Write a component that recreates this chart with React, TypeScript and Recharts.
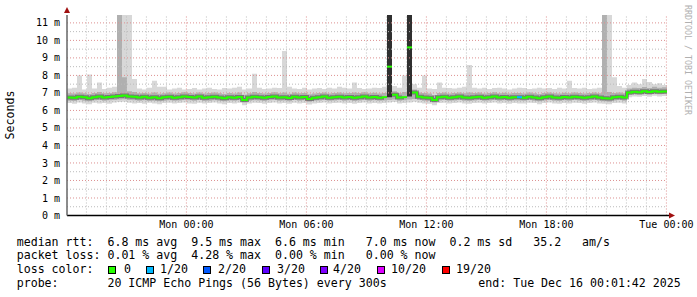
import React from "react";
import {
  ComposedChart,
  Area,
  Line,
  XAxis,
  YAxis,
  ReferenceLine,
  ReferenceDot,
} from "recharts";

// 15 minute bins, hours relative to Mon 00:00
const START_H = -5.97;
const STEP_H = 0.25;
const END_H = 24.03;
const Y_MAX = 11.45;

const med = [
  6.74, 6.72, 6.78, 6.75, 6.70, 6.76, 6.80, 6.74, 6.77, 6.79,
  6.83, 6.86, 6.80, 6.78, 6.74, 6.78, 6.72, 6.76, 6.70, 6.75,
  6.78, 6.73, 6.76, 6.80, 6.77, 6.74, 6.79, 6.72, 6.75, 6.78,
  6.74, 6.70, 6.76, 6.73, 6.77, 6.60, 6.74, 6.78, 6.75, 6.72,
  6.77, 6.80, 6.74, 6.76, 6.71, 6.78, 6.74, 6.77, 6.66, 6.72,
  6.76, 6.79, 6.73, 6.75, 6.78, 6.74, 6.77, 6.72, 6.76, 6.80,
  6.74, 6.77, 6.73, 6.76, 8.50, 6.90, 6.74, 6.76, 9.60, 7.02,
  6.78, 6.74, 6.72, 6.60, 6.75, 6.78, 6.73, 6.76, 6.79, 6.74,
  6.72, 6.76, 6.78, 6.73, 6.75, 6.80, 6.74, 6.77, 6.72, 6.75,
  6.76, 6.73, 6.78, 6.74, 6.70, 6.76, 6.79, 6.74, 6.72, 6.77,
  6.74, 6.78, 6.75, 6.72, 6.76, 6.79, 6.74, 6.70, 6.68, 6.75,
  6.78, 6.74, 7.02, 7.06, 7.04, 7.09, 7.05, 7.10, 7.06, 7.08,
];

const lightHi = [
  7.25, 7.30, 8.00, 7.20, 8.05, 7.25, 7.60, 7.22, 7.30, 7.35,
  11.45, 11.45, 11.45, 7.80, 7.25, 7.20, 7.30, 7.70, 7.35, 7.35,
  7.20, 7.25, 7.30, 7.20, 7.22, 7.28, 7.20, 7.25, 7.30, 7.22,
  7.20, 7.28, 7.25, 7.30, 7.35, 7.20, 7.25, 8.10, 7.30, 7.22,
  7.25, 7.30, 7.28, 9.40, 7.35, 7.25, 7.22, 7.30, 7.20, 7.25,
  7.28, 7.22, 7.30, 7.25, 7.35, 7.30, 7.25, 7.60, 7.28, 7.22,
  7.25, 7.30, 7.28, 7.35, 11.45, 7.40, 7.30, 8.00, 11.45, 7.50,
  7.30, 8.00, 7.25, 7.22, 7.60, 7.30, 7.28, 7.25, 7.30, 7.35,
  8.60, 7.30, 7.25, 7.30, 7.22, 7.28, 7.30, 7.25, 7.20, 7.25,
  7.30, 7.28, 7.22, 7.25, 7.30, 7.25, 7.28, 7.22, 7.30, 7.25,
  7.70, 7.28, 7.25, 7.30, 7.22, 7.25, 7.30, 11.45, 11.45, 7.90,
  7.40, 7.30, 7.45, 7.60, 7.50, 7.80, 7.62, 7.50, 7.55, 7.45,
];

const lightLo = [
  6.42, 6.38, 6.45, 6.40, 6.36, 6.44, 6.40, 6.42, 6.38, 6.45,
  6.48, 6.50, 6.44, 6.40, 6.42, 6.38, 6.44, 6.40, 6.36, 6.42,
  6.44, 6.40, 6.42, 6.46, 6.40, 6.38, 6.44, 6.40, 6.42, 6.45,
  6.40, 6.36, 6.42, 6.40, 6.44, 6.30, 6.40, 6.44, 6.42, 6.38,
  6.42, 6.45, 6.40, 6.42, 6.38, 6.44, 6.40, 6.42, 6.34, 6.40,
  6.42, 6.45, 6.40, 6.42, 6.44, 6.40, 6.42, 6.38, 6.42, 6.46,
  6.40, 6.42, 6.40, 6.42, 6.45, 6.48, 6.40, 6.42, 6.46, 6.50,
  6.44, 6.40, 6.38, 6.30, 6.42, 6.44, 6.40, 6.42, 6.45, 6.40,
  6.38, 6.42, 6.44, 6.40, 6.42, 6.45, 6.40, 6.42, 6.38, 6.42,
  6.40, 6.40, 6.44, 6.42, 6.36, 6.42, 6.45, 6.40, 6.38, 6.42,
  6.40, 6.44, 6.42, 6.38, 6.42, 6.45, 6.40, 6.38, 6.36, 6.42,
  6.44, 6.40, 6.75, 6.80, 6.78, 6.82, 6.78, 6.84, 6.80, 6.82,
];

const midLo = [
  6.56, 6.54, 6.60, 6.56, 6.52, 6.58, 6.60, 6.56, 6.58, 6.60,
  6.62, 6.64, 6.60, 6.58, 6.56, 6.58, 6.54, 6.56, 6.52, 6.56,
  6.58, 6.55, 6.57, 6.60, 6.58, 6.55, 6.60, 6.54, 6.56, 6.58,
  6.56, 6.52, 6.57, 6.55, 6.58, 6.45, 6.56, 6.58, 6.57, 6.54,
  6.58, 6.60, 6.56, 6.57, 6.53, 6.59, 6.56, 6.58, 6.50, 6.55,
  6.57, 6.60, 6.55, 6.57, 6.59, 6.56, 6.58, 6.54, 6.57, 6.60,
  6.56, 6.58, 6.55, 6.57, 6.60, 6.62, 6.56, 6.58, 6.62, 6.66,
  6.59, 6.56, 6.54, 6.45, 6.57, 6.59, 6.55, 6.57, 6.60, 6.56,
  6.54, 6.57, 6.59, 6.55, 6.57, 6.60, 6.56, 6.58, 6.54, 6.57,
  6.57, 6.55, 6.59, 6.56, 6.52, 6.57, 6.60, 6.56, 6.54, 6.58,
  6.56, 6.59, 6.57, 6.54, 6.57, 6.60, 6.56, 6.52, 6.50, 6.57,
  6.59, 6.56, 6.88, 6.92, 6.90, 6.94, 6.90, 6.95, 6.92, 6.94,
];

const midHi = [
  6.98, 6.96, 7.02, 6.98, 6.94, 7.00, 7.05, 6.98, 7.00, 7.04,
  11.45, 7.90, 7.10, 7.05, 6.98, 7.00, 6.96, 7.02, 6.95, 6.98,
  7.02, 6.97, 7.00, 7.04, 7.00, 6.97, 7.02, 6.96, 6.99, 7.02,
  6.98, 6.94, 7.00, 6.96, 7.02, 6.90, 6.98, 7.05, 7.00, 6.96,
  7.00, 7.04, 6.98, 7.02, 6.95, 7.02, 6.98, 7.00, 6.92, 6.97,
  7.00, 7.03, 6.97, 6.99, 7.02, 6.98, 7.00, 7.02, 7.00, 7.04,
  6.98, 7.01, 6.97, 7.00, 11.45, 7.10, 6.98, 7.05, 11.45, 7.20,
  7.02, 7.00, 6.96, 6.88, 6.99, 7.02, 6.97, 7.00, 7.03, 6.98,
  7.02, 7.00, 7.02, 6.97, 6.99, 7.04, 6.98, 7.01, 6.96, 6.99,
  7.00, 6.97, 7.02, 6.98, 6.94, 7.00, 7.03, 6.98, 6.96, 7.01,
  6.98, 7.02, 6.99, 6.96, 7.00, 7.03, 6.98, 11.45, 7.05, 6.99,
  7.02, 6.98, 7.25, 7.30, 7.28, 7.34, 7.28, 7.35, 7.30, 7.32,
];

// bins where all 20 pings went high (dark smoke column)
const spikeBins = [64, 68];
const spikeLo = [6.75, 6.8];
const spikeHi = [11.45, 11.45];

// bins whose median has packet loss
const lossBins = [90];
const lossBinLevel = ["1/20"];

const lossLabels = ["0", "1/20", "2/20", "3/20", "4/20", "10/20", "19/20"];
const lossColors = ["#26ff00", "#00b8ff", "#0059ff", "#5e00ff", "#7e00ff", "#dd00ff", "#ff0000"];

const xTicks = [0, 6, 12, 18, 24];
const xTickLabels = ["Mon 00:00", "Mon 06:00", "Mon 12:00", "Mon 18:00", "Tue 00:00"];
const yTicks = [0, 1, 2, 3, 4, 5, 6, 7, 8, 9, 10, 11];

const MONO = "'DejaVu Sans Mono', monospace";

// a bin is drawn as its own short segment when it touches a spike or has loss
const dotBins = new Set<number>();
spikeBins.forEach((b) => { dotBins.add(b); dotBins.add(b - 1); });
lossBins.forEach((b) => dotBins.add(b));

const rowFor = (i: number, t: number) => {
  const si = spikeBins.indexOf(i);
  const prev = spikeBins.indexOf(i - 1);
  const li = lossBins.indexOf(i);
  let core: number[] | null = null;
  if (si >= 0) core = [spikeLo[si], spikeHi[si]];
  else if (prev >= 0 && t < END_H) core = [spikeLo[prev], spikeHi[prev]];
  return {
    t,
    light: [lightLo[i], lightHi[i]],
    mid: [midLo[i], midHi[i]],
    core,
    medLine: spikeBins.includes(i) ? null : med[i],
    medDot: dotBins.has(i) ? med[i] : null,
    dotColor: li >= 0 ? lossColors[lossLabels.indexOf(lossBinLevel[li])] : lossColors[0],
  };
};

const data = med.map((_, i) => rowFor(i, START_H + STEP_H * i));
data.push({ ...rowFor(med.length - 1, END_H), medDot: null, core: null });

const hours = Array.from({ length: 30 }, (_, k) => k - 5);
const halfSteps = Array.from({ length: 22 }, (_, k) => (k + 1) * 0.5);

const renderDot = (props: any) => {
  const { cx, cy, payload, index } = props;
  if (payload == null || payload.medDot == null || cy == null) return <g key={`d${index}`} />;
  return <rect key={`d${index}`} x={cx} y={cy - 1} width={5} height={2} fill={payload.dotColor} />;
};

const upArrow = (props: any) => {
  const { cx, cy } = props;
  return <polygon points={`${cx - 3},${cy - 2} ${cx + 3},${cy - 2} ${cx},${cy - 8}`} fill="#a01010" />;
};

const rightArrow = (props: any) => {
  const { cx, cy } = props;
  return (
    <g>
      <line x1={cx} y1={cy} x2={cx + 3} y2={cy} stroke="#000" strokeWidth={1.5} />
      <polygon points={`${cx + 2},${cy - 3} ${cx + 2},${cy + 3} ${cx + 8},${cy}`} fill="#a01010" />
    </g>
  );
};

const text = (top: number, left: number, s: string) => (
  <div style={{ position: "absolute", top, left, whiteSpace: "pre", lineHeight: "14px" }}>{s}</div>
);

export default function App() {
  const sqLeft = [108, 146, 203, 262, 320, 377, 442];
  const lbLeft = [124, 160, 218, 277, 333, 391, 456];
  return (
    <div style={{ position: "absolute", left: 0, top: 0, width: 697, height: 297, background: "#fff", fontFamily: MONO, fontSize: 11.6, color: "#000" }}>
      <ComposedChart width={697} height={297} data={data} margin={{ top: 15, right: 30, bottom: 51.5, left: 7 }}>
        <XAxis
          dataKey="t"
          type="number"
          domain={[START_H, END_H]}
          ticks={xTicks}
          allowDataOverflow
          tickFormatter={(v: number) => xTickLabels[xTicks.indexOf(v)]}
          tick={{ fontFamily: MONO, fontSize: 10, fill: "#000" }}
          tickLine={false}
          tickSize={0}
          tickMargin={5}
          height={30}
          axisLine={{ stroke: "#000", strokeWidth: 1.5 }}
        />
        <YAxis
          type="number"
          domain={[0, Y_MAX]}
          ticks={yTicks}
          allowDataOverflow
          tickFormatter={(v: number) => `${v} m`}
          tick={{ fontFamily: MONO, fontSize: 10, fill: "#000" }}
          tickLine={false}
          tickSize={0}
          tickMargin={7}
          width={60}
          axisLine={{ stroke: "#666", strokeWidth: 1.5 }}
        />
        <Area dataKey="light" type="stepAfter" fill="#d8d8d8" fillOpacity={1} stroke="none" isAnimationActive={false} />
        <Area dataKey="mid" type="stepAfter" fill="#b0b0b0" fillOpacity={1} stroke="none" isAnimationActive={false} />
        <Area dataKey="core" type="stepAfter" fill="#303030" fillOpacity={1} stroke="none" isAnimationActive={false} />
        {halfSteps.map((v) => (
          <ReferenceLine key={`h${v}`} y={v} stroke={Number.isInteger(v) ? "#dd9090" : "#bbbbbb"} strokeDasharray="1 2" />
        ))}
        {hours.map((h) => (
          <ReferenceLine key={`v${h}`} x={h} stroke={h % 6 === 0 ? "#dd9090" : "#bbbbbb"} strokeDasharray="1 2" />
        ))}
        <Line dataKey="medLine" type="stepAfter" stroke="#333" strokeOpacity={0.45} strokeWidth={4} dot={false} isAnimationActive={false} />
        <Line dataKey="medLine" type="stepAfter" stroke={lossColors[0]} strokeWidth={2} dot={false} isAnimationActive={false} />
        <Line dataKey="medDot" stroke="none" dot={renderDot} activeDot={false} isAnimationActive={false} />
        <ReferenceDot x={START_H} y={Y_MAX} r={0} ifOverflow="visible" shape={upArrow} />
        <ReferenceDot x={END_H} y={0} r={0} ifOverflow="visible" shape={rightArrow} />
      </ComposedChart>

      <div style={{ position: "absolute", left: 10, top: 115, transform: "translate(-50%,-50%) rotate(-90deg)", whiteSpace: "pre" }}>Seconds</div>
      <div style={{ position: "absolute", left: 688, top: 60, transform: "translate(-50%,-50%) rotate(90deg)", whiteSpace: "pre", fontSize: 8.3, color: "#b0b0b0" }}>
        RRDTOOL / TOBI OETIKER
      </div>

      {text(234.7, 16.7, "median rtt:  6.8 ms avg  9.5 ms max  6.6 ms min   7.0 ms now  0.2 ms sd   35.2   am/s")}
      {text(248, 16.7, "packet loss: 0.01 % avg  4.28 % max  0.00 % min   0.00 % now")}
      {text(262, 16.7, "loss color:")}
      {lossLabels.map((l, k) => (
        <React.Fragment key={l}>
          <div style={{ position: "absolute", left: sqLeft[k], top: 265.5, width: 6, height: 6, background: lossColors[k], border: "1px solid #000" }} />
          {text(262, lbLeft[k], l)}
        </React.Fragment>
      ))}
      {text(275.7, 16.7, "probe:       20 ICMP Echo Pings (56 Bytes) every 300s")}
      {text(275.7, 478.3, "end: Tue Dec 16 00:01:42 2025")}
    </div>
  );
}
